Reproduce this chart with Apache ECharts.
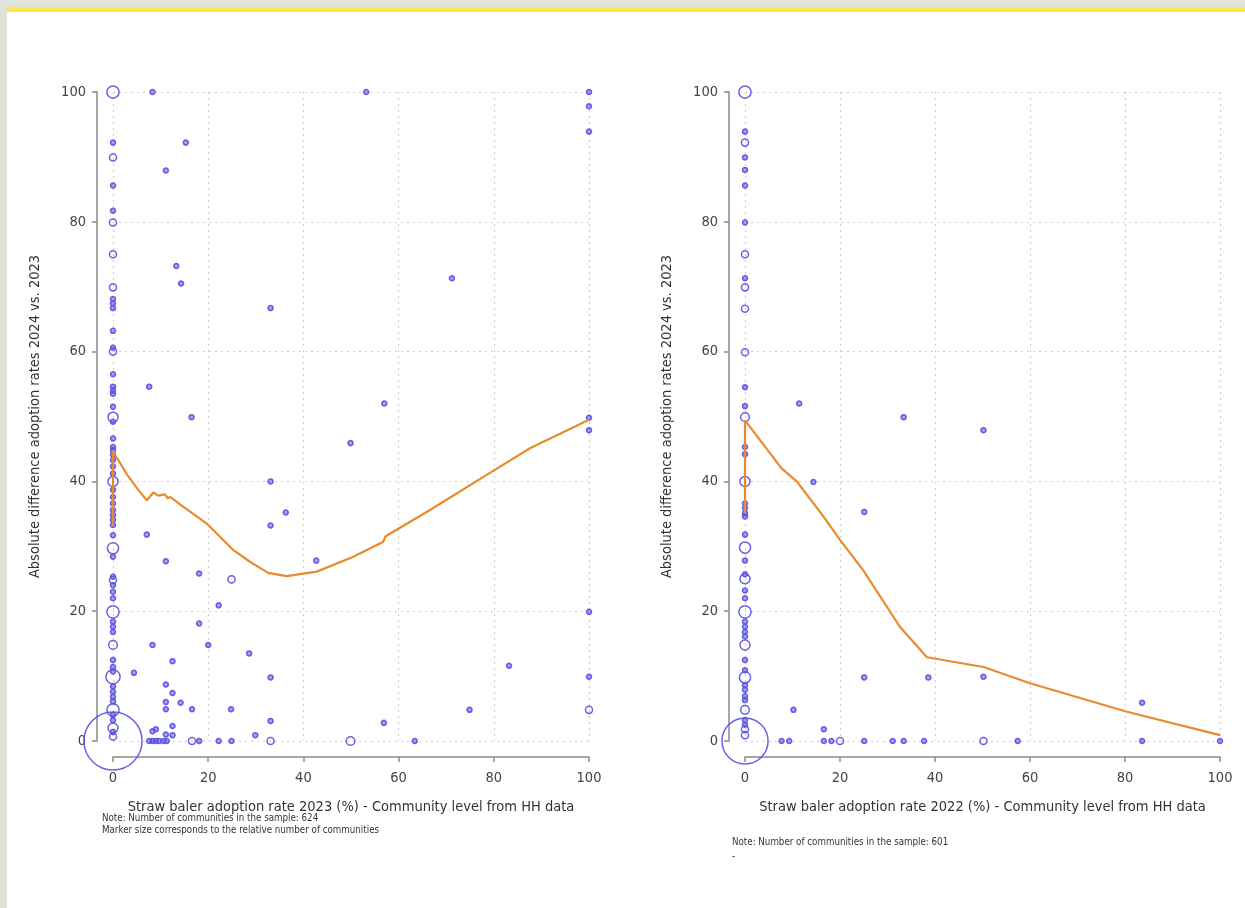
<!DOCTYPE html>
<html>
<head>
<meta charset="utf-8">
<script src="https://cdn.jsdelivr.net/npm/echarts@6/dist/echarts.min.js"></script>
<style>
html,body{margin:0;padding:0;background:#fff;}
#frameTop{position:absolute;left:0;top:0;width:1245px;height:7px;background:#dfe4da;}
#frameYellow{position:absolute;left:7px;top:7px;width:1238px;height:5px;background:#fde647;}
#frameLeft{position:absolute;left:0;top:0;width:7px;height:908px;background:#dfe4da;}
#chart{position:absolute;left:0;top:0;width:1245px;height:908px;}
</style>
</head>
<body>
<div id="frameTop"></div><div id="frameYellow"></div><div id="frameLeft"></div>
<div id="chart"></div>
<script>
// ---- data: [x (%), y (abs. difference), number of communities] ----
const xTicks = [0, 20, 40, 60, 80, 100];
const yTicks = [0, 20, 40, 60, 80, 100];

const leftColumnPoints = [
  [0,100,6],[0,92.2,1],[0,89.9,2],[0,85.6,1],[0,81.7,1],[0,79.9,2],[0,75,2],[0,69.9,2],[0,68.1,1],[0,67.4,1],[0,66.7,1],
  [0,63.2,1],[0,60.6,1],[0,60,2],[0,56.5,1],[0,54.6,1],[0,54,1],[0,53.5,1],[0,51.5,1],[0,49.9,4],[0,49.2,1],[0,46.6,1],
  [0,45.3,1],[0,44.8,1],[0,44.1,1],[0,43.3,1],[0,42.3,1],[0,41.2,1],[0,40,4],[0,38.7,1],[0,37.6,1],[0,36.6,1],[0,35.6,1],
  [0,34.8,1],[0,34.1,1],[0,33.3,1],[0,31.7,1],[0,29.7,5],[0,28.4,1],[0,25.3,1],[0,24.8,2],[0,24,1],[0,23,1],[0,22,1],
  [0,19.9,6],[0,18.4,1],[0,17.6,1],[0,16.8,1],[0,14.8,3],[0,12.5,1],[0,11.4,1],[0,10.7,1],[0,9.9,8],[0,8.4,1],[0,7.6,1],
  [0,6.8,1],[0,6.1,1],[0,4.8,6],[0,4,1],[0,3.2,1],[0,2,4],[0,1.4,1],[0,0.7,2],[0,0,135]
];
const leftOtherPoints = [
  [8.3,100,1],[15.3,92.2,1],[11.1,87.9,1],[13.3,73.2,1],[14.3,70.5,1],[7.6,54.6,1],[16.5,49.9,1],[7.1,31.8,1],[11.1,27.7,1],
  [18.1,25.8,1],[24.9,24.9,2],[22.2,20.9,1],[18.1,18.1,1],[8.3,14.8,1],[20,14.8,1],[28.6,13.5,1],[12.5,12.3,1],[4.4,10.5,1],
  [33.1,9.8,1],[11.1,8.7,1],[12.5,7.4,1],[11.1,6,1],[14.2,5.9,1],[11.1,4.9,1],[16.6,4.9,1],[24.8,4.9,1],[33.1,3.1,1],
  [12.5,2.3,1],[8.3,1.5,1],[9,1.8,1],[11.1,1,1],[12.5,0.9,1],[29.9,0.9,1],[56.9,2.8,1],[7.6,0,1],[8.3,0,1],[9,0,1],
  [9.7,0,1],[10.6,0,1],[11.3,0,1],[16.6,0,2],[18.1,0,1],[22.2,0,1],[24.9,0,1],[33.1,0,2],[49.9,0,3],[63.4,0,1],
  [33.1,33.2,1],[36.3,35.2,1],[42.7,27.8,1],[33.1,66.7,1],[33.1,40,1],[53.2,100,1],[71.2,71.3,1],[57,52,1],[49.9,45.9,1],
  [100,100,1],[100,97.8,1],[100,93.9,1],[100,49.8,1],[100,47.9,1],[100,19.9,1],[83.2,11.6,1],[100,9.9,1],[74.9,4.8,1],[100,4.8,2]
];
const leftSmooth = [
  [0,33.3],[0,44.6],[3,41],[5.5,38.5],[7.1,37.1],[8.5,38.3],[9.5,37.8],[10.9,38],[11.5,37.4],[12,37.6],[14,36.5],
  [19.7,33.5],[25.3,29.4],[29,27.5],[32.6,25.9],[36.5,25.4],[42.8,26.1],[50.5,28.4],[56.8,30.7],[57.2,31.5],
  [66.6,35.6],[79.6,41.5],[87.6,45.1],[100,49.5]
];

const rightColumnPoints = [
  [0,100,6],[0,93.9,1],[0,92.2,2],[0,89.9,1],[0,88,1],[0,85.6,1],[0,79.9,1],[0,75,2],[0,71.3,1],[0,69.9,2],[0,66.6,2],
  [0,59.9,2],[0,54.5,1],[0,51.6,1],[0,49.9,3],[0,45.3,1],[0,44.2,1],[0,40,4],[0,36.6,1],[0,35.9,1],[0,35.1,1],[0,34.6,1],
  [0,31.8,1],[0,29.8,5],[0,27.8,1],[0,25.7,1],[0,25,4],[0,23.2,1],[0,22,1],[0,19.9,6],[0,18.4,1],[0,17.6,1],[0,16.8,1],
  [0,16.1,1],[0,14.8,4],[0,12.5,1],[0,10.9,1],[0,9.8,5],[0,8.6,1],[0,7.9,1],[0,6.9,1],[0,6.3,1],[0,4.8,3],[0,3.2,1],
  [0,2.5,1],[0,1.8,2],[0,0.9,2],[0,0,85]
];
const rightOtherPoints = [
  [11.4,52,1],[33.4,49.9,1],[50.2,47.9,1],[14.4,39.9,1],[25.1,35.3,1],[25.1,9.8,1],[38.6,9.8,1],[50.2,9.9,1],[10.2,4.8,1],
  [16.6,1.8,1],[83.6,5.9,1],[7.7,0,1],[9.3,0,1],[16.6,0,1],[18.2,0,1],[20,0,2],[25.1,0,1],[31.1,0,1],[33.4,0,1],
  [37.7,0,1],[50.2,0,2],[57.4,0,1],[83.6,0,1],[100,0,1]
];
const rightSmooth = [
  [0,35],[0,49.4],[7.7,42],[10.9,40],[16.5,34.6],[20,31],[24.9,26.3],[32.6,17.6],[38.3,12.9],[50.2,11.4],
  [60,8.9],[80.4,4.5],[100,0.9]
];

const yTitle = 'Absolute difference adoption rates 2024 vs. 2023';
const xTitleLeft = 'Straw baler adoption rate 2023 (%) - Community level from HH data';
const xTitleRight = 'Straw baler adoption rate 2022 (%) - Community level from HH data';
const noteLeft = ['Note: Number of communities in the sample: 624', 'Marker size corresponds to the relative number of communities'];
const noteRight = ['Note: Number of communities in the sample: 601', '-'];

// ---- styling ----
const FONT = '"Liberation Sans Narrow", "DejaVu Sans Condensed", "Liberation Sans", sans-serif';
const MARK = '#5a50e2';
const ORANGE = '#ea8a2e';
const FS = 14.5;

function xAxisFor(gi, title) {
  return {
    gridIndex: gi, type: 'value', min: 0, max: 100, interval: 20, offset: 16,
    name: title, nameLocation: 'middle', nameGap: 43,
    nameTextStyle: {fontFamily: FONT, fontSize: FS, color: '#333'},
    axisLine: {show: true, onZero: false, lineStyle: {color: '#8a8a8a', width: 1.5}},
    axisTick: {show: true, length: 5, lineStyle: {color: '#8a8a8a', width: 1.5}},
    axisLabel: {fontFamily: FONT, fontSize: FS, color: '#444', margin: 14},
    splitLine: {show: true, lineStyle: {type: [2, 4], color: '#cfcfcf', width: 1.2}}
  };
}
function yAxisFor(gi) {
  return {
    gridIndex: gi, type: 'value', min: 0, max: 100, interval: 20, offset: 16,
    name: yTitle, nameLocation: 'middle', nameGap: 54, nameRotate: 90,
    nameTextStyle: {fontFamily: FONT, fontSize: FS, color: '#333'},
    axisLine: {show: true, onZero: false, lineStyle: {color: '#8a8a8a', width: 1.5}},
    axisTick: {show: true, length: 5, lineStyle: {color: '#8a8a8a', width: 1.5}},
    axisLabel: {fontFamily: FONT, fontSize: FS, color: '#444', margin: 11},
    splitLine: {show: true, lineStyle: {type: [2, 4], color: '#cfcfcf', width: 1.2}}
  };
}
function scatterSeries(gi, data) {
  return {
    type: 'scatter', xAxisIndex: gi, yAxisIndex: gi, data: data, clip: false,
    symbol: 'circle',
    symbolSize: function (d) { return 5 * Math.sqrt(d[2]); },
    itemStyle: {
      color: function (p) { return p.data[2] <= 1 ? 'rgba(90,80,226,0.6)' : 'rgba(255,255,255,0)'; },
      borderColor: MARK, borderWidth: 1.5, opacity: 0.9
    },
    emphasis: {disabled: true}, z: 2
  };
}
function lineSeries(gi, data) {
  return {
    type: 'line', xAxisIndex: gi, yAxisIndex: gi, data: data, showSymbol: false, symbol: 'none',
    lineStyle: {color: ORANGE, width: 2.2}, z: 3, emphasis: {disabled: true}
  };
}

const chart = echarts.init(document.getElementById('chart'), null, {renderer: 'canvas'});
chart.setOption({
  backgroundColor: 'transparent',
  animation: false,
  grid: [
    {left: 113, right: 656, top: 92, bottom: 167},
    {left: 745, right: 25, top: 92, bottom: 167}
  ],
  xAxis: [xAxisFor(0, xTitleLeft), xAxisFor(1, xTitleRight)],
  yAxis: [yAxisFor(0), yAxisFor(1)],
  series: [
    scatterSeries(0, leftColumnPoints.concat(leftOtherPoints)),
    lineSeries(0, leftSmooth),
    scatterSeries(1, rightColumnPoints.concat(rightOtherPoints)),
    lineSeries(1, rightSmooth)
  ],
  graphic: [
    {type: 'text', left: 102, top: 812, style: {text: noteLeft.join('\n'), font: '9.7px ' + FONT, fill: '#333', lineHeight: 12}},
    {type: 'text', left: 732, top: 835, style: {text: noteRight.join('\n'), font: '9.7px ' + FONT, fill: '#333', lineHeight: 14}}
  ]
});
</script>
</body>
</html>
